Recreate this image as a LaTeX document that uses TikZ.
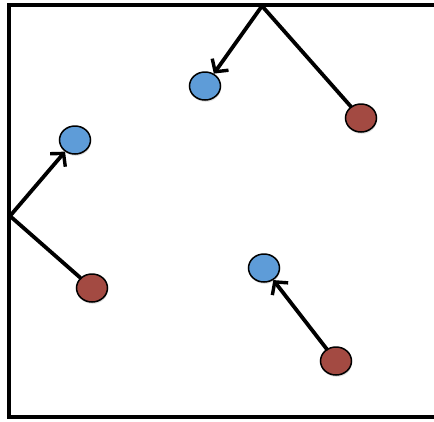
\documentclass[tikz,border=0pt]{standalone}
\usetikzlibrary{arrows.meta,shapes.geometric,shadows}
\definecolor{ballblue}{RGB}{94,156,216}
\definecolor{ballred}{RGB}{163,74,66}
\tikzset{
  ball/.style={ellipse, draw=black, line width=1.5pt, minimum width=31pt, minimum height=28pt, inner sep=0pt,
    drop shadow={opacity=0.25, shadow xshift=0.6pt, shadow yshift=-1.8pt}},
  blueball/.style={ball, fill=ballblue},
  redball/.style={ball, fill=ballred},
  ray/.style={line width=3.8pt, line cap=round},
  arrowray/.style={ray, -{Straight Barb[length=9pt,width=20pt,line width=3.4pt]}},
  wall/.style={line width=4.6pt, line join=miter}
}
\begin{document}
\begin{tikzpicture}[x=1pt,y=-1pt]
\useasboundingbox (0,0) rectangle (434,421);
\fill[white] (0,0) rectangle (434,421);
\draw[wall] (436,5) -- (9,5) -- (9,417) -- (436,417);
\coordinate (ptop) at (262,6);
\coordinate (pleft) at (10,216);
\node[blueball] (btop) at (205,86) {};
\node[redball] (rtop) at (361,118) {};
\node[blueball] (bleft) at (75,140) {};
\node[redball] (rleft) at (92,288) {};
\node[blueball] (bbot) at (264,268) {};
\node[redball] (rbot) at (336,361) {};
\draw[ray] (rtop) -- (ptop);
\draw[arrowray] (ptop) -- (btop);
\draw[ray] (rleft) -- (pleft);
\draw[arrowray] (pleft) -- (bleft);
\draw[arrowray] (rbot) -- (bbot);
\end{tikzpicture}
\end{document}
